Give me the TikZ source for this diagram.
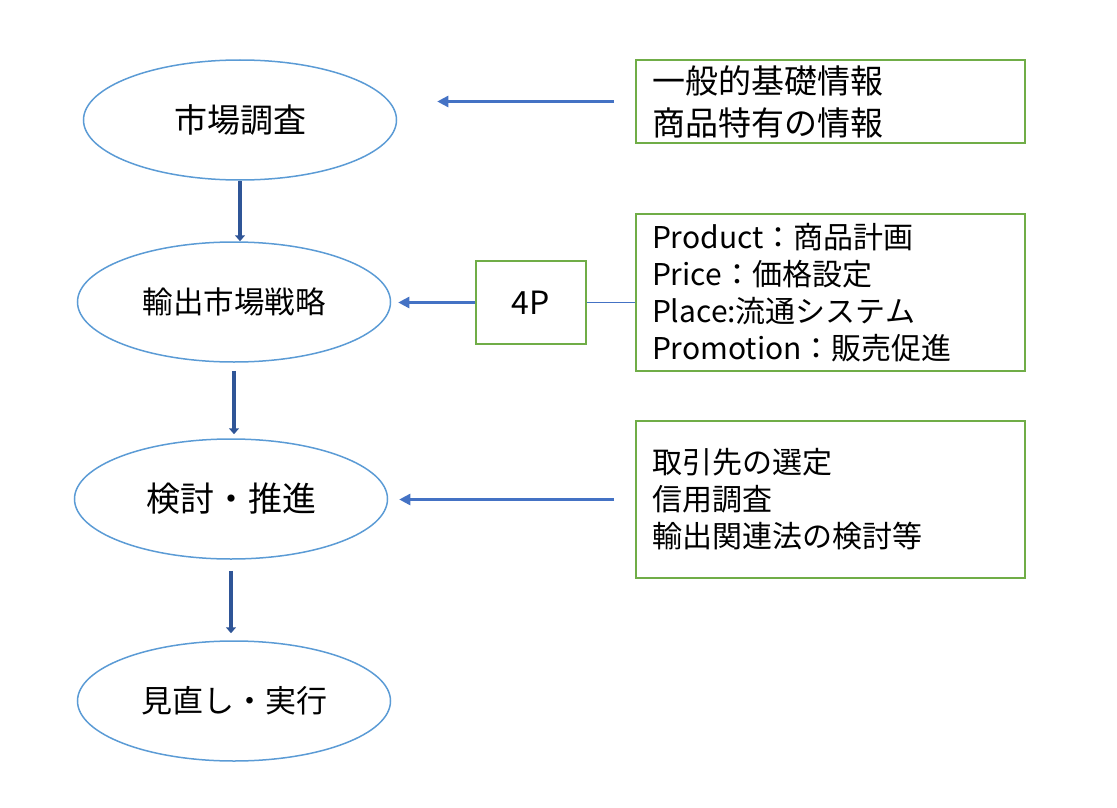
\documentclass[tikz,border=0pt]{standalone}
\usepackage{fontspec}
\setmainfont{Noto Sans CJK JP}
\usetikzlibrary{shapes.geometric,arrows.meta}
\definecolor{ellblue}{RGB}{91,155,213}
\definecolor{boxgreen}{RGB}{112,173,71}
\definecolor{arrblue}{RGB}{68,114,196}
\definecolor{darkblue}{RGB}{47,85,151}

\begin{document}
\begin{tikzpicture}[
x=1pt,y=-1pt,
mystage/.style={
  ellipse,
  draw=ellblue,
  line width=1.5pt,
  minimum width=313pt,
  minimum height=120pt,
  inner sep=0pt
  },
mybox/.style={
  draw=boxgreen,
  line width=2pt,
  inner xsep=16pt,
  inner ysep=0pt,
  text width=357pt,
  align=left,
  minimum height=157pt,
  font=\fontsize{30}{37}\selectfont
  },
down/.style={-{Triangle[length=6pt,width=10pt]},line width=4pt,color=darkblue},
feed/.style={-{Triangle[length=11pt,width=11pt]},line width=2.5pt,color=arrblue}
]
\useasboundingbox (0,0) rectangle (1117,808);
\foreach \Value/\X/\Y/\Size/\Text in {1/240/120/33/市場調査,2/234/302/30.5/輸出市場戦略,3/231/499/34/検討・推進,4/234/701/31/見直し・実行}
  \node[mystage,font=\fontsize{\Size}{\Size}\selectfont] (s\Value) at (\X,\Y) {\Text};
\node[mybox,minimum height=83pt,font=\fontsize{33}{42}\selectfont] (i1) at (830.5,101.5) {一般的基礎情報\\商品特有の情報};
\node[mybox] (i2) at (830.5,292.5) {Product：商品計画\\Price：価格設定\\Place:流通システム\\Promotion：販売促進};
\node[mybox] (i3) at (830.5,499.5) {取引先の選定\\信用調査\\輸出関連法の検討等};
\node[draw=boxgreen,line width=2pt,minimum width=110pt,minimum height=83pt,font=\fontsize{32}{32}\selectfont] (p4) at (531,302.5) {4P};
\path[down]
	(s1.south) edge (s1.south |- s2.north)
	(s2.south) edge[shorten <=8pt,shorten >=4pt] (s2.south |- s3.north)
	(s3.south) edge[shorten <=11pt,shorten >=7pt] (s3.south |- s4.north);
\path[feed]
	(i1.west) edge[shorten <=21pt,shorten >=40pt] (i1.west -| s1.east)
	(p4.west) edge[shorten >=7pt] (p4.west -| s2.east)
	(i3.west) edge[shorten <=21pt,shorten >=11pt] (i3.west -| s3.east);
\draw[arrblue,line width=1pt] (p4.east) -- (p4.east -| i2.west);
\end{tikzpicture}
\end{document}
